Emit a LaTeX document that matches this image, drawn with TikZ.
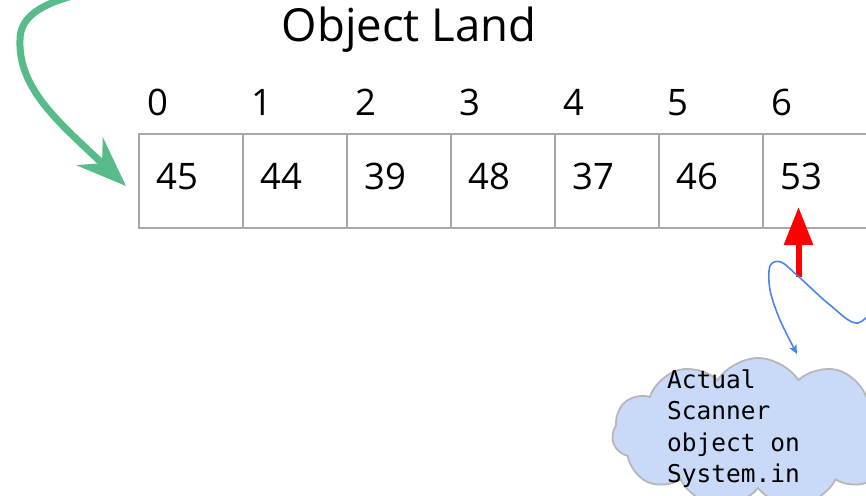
\documentclass[tikz,border=0pt]{standalone}
\usepackage{fontspec}
\setmainfont{Open Sans}
\setmonofont{DejaVu Sans Mono}
\usetikzlibrary{arrows.meta,shapes.symbols}
\definecolor{cellgray}{HTML}{A8A8A8}
\definecolor{arrowgreen}{HTML}{57BB8A}
\definecolor{curveblue}{HTML}{4A86E8}
\definecolor{cloudfill}{HTML}{C9DAF8}
\definecolor{cloudline}{HTML}{B7B7B7}
\tikzset{
  cellbox/.style={draw=cellgray, line width=1.5pt, minimum width=104pt, minimum height=94pt, inner sep=0pt, outer sep=0pt},
  idxtext/.style={inner sep=0pt, anchor=base west, font=\fontsize{36.5}{44}\selectfont},
  valtext/.style={inner sep=0pt, anchor=base west, font=\fontsize{36.5}{44}\selectfont},
  titletext/.style={inner sep=0pt, anchor=base west, font=\fontsize{45.5}{55}\selectfont},
  monotext/.style={inner sep=0pt, anchor=base west, font=\ttfamily\fontsize{24.5}{31.5}\selectfont},
  cloudshape/.style={cloud, cloud puffs=11, cloud puff arc=115, aspect=2, draw=cloudline, fill=cloudfill, line width=1.8pt, minimum width=292pt, minimum height=150pt, inner sep=0pt},
  greenarrow/.style={draw=arrowgreen, line width=7pt, -{Stealth[length=50pt, width=38pt, inset=17pt]}},
  redarrow/.style={draw=red, fill=red, line width=6pt, -{Triangle[length=38pt, width=28pt]}},
  bluecurve/.style={draw=curveblue, line width=1.6pt, -{Stealth[length=9pt, width=8pt, inset=2pt]}},
}
\begin{document}
\begin{tikzpicture}[x=1pt,y=-1pt]
\useasboundingbox (0,0) rectangle (866,495);
\clip (0,0) rectangle (866,495);

% title
\node[titletext] (title) at (281.5,41.5) {Object Land};

% array cells, indices and values
\foreach \i/\v in {0/45,1/44,2/39,3/48,4/37,5/46,6/53} {
  \node[cellbox] (c\i) at ({139+104*\i+52},181) {};
  \node[idxtext] (i\i) at ({139+104*\i+8},115) {\i};
  \node[valtext] (v\i) at ({139+104*\i+17},189) {\v};
}

% cloud with text
\node[cloudshape] (cloud) at (758,433) {};
\node[monotext] (l1) at (667,388) {Actual};
\node[monotext] (l2) at (667,419.5) {Scanner};
\node[monotext] (l3) at (667,451) {object on};
\node[monotext] (l4) at (667,482.5) {System.in};

% green arrow into the array
\coordinate (gs) at (80,-6);
\coordinate (gm) at (20,40);
\coordinate (gt) at (126,186);
\draw[greenarrow] (gs) .. controls (35,5) and (20,20) .. (gm) .. controls (18,90) and (62,125) .. (gt);

% red arrow pointing at cell 6
\coordinate (rs) at (798.5,277);
\coordinate (rt) at (798.5,207);
\draw[redarrow] (rs) -- (rt);

% blue curve to cloud
\coordinate (bs) at (884,296);
\coordinate (be) at (797,354);
\draw[bluecurve] plot[smooth, tension=0.55] coordinates {(bs) (858,323) (830,305) (799,277) (781,262) (770,266) (770,290) (780,320) (be)};
\end{tikzpicture}
\end{document}
